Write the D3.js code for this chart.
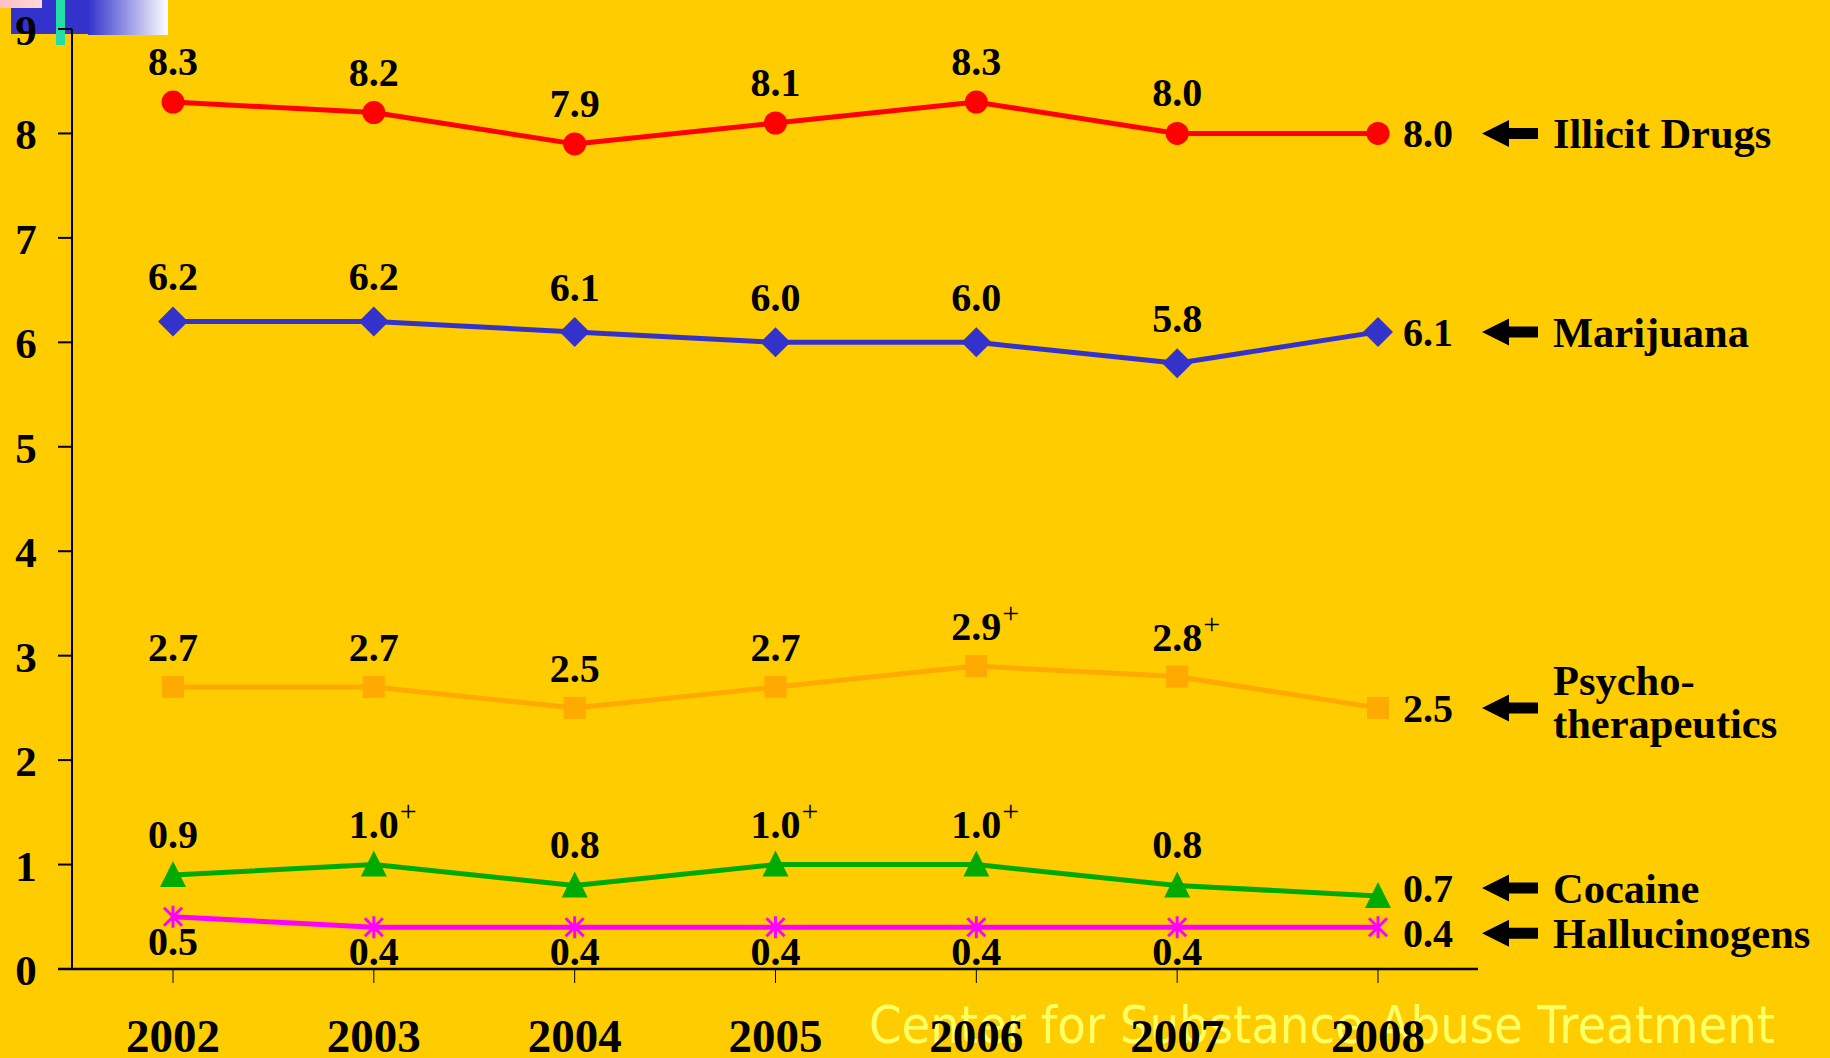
<!DOCTYPE html>
<html>
<head>
<meta charset="utf-8">
<script src="https://cdn.jsdelivr.net/npm/d3@7"></script>
<style>
  html, body { margin: 0; padding: 0; background: #FFCC00; }
  svg { display: block; }
  text { font-family: "Liberation Serif", "Times New Roman", serif; font-weight: bold; fill: #000; }
</style>
</head>
<body>
<svg id="chart" width="1830" height="1058"></svg>
<script>
// Past-month use, persons aged 12 or older, 2002-2008 (percent)
const years = [2002, 2003, 2004, 2005, 2006, 2007, 2008];
const illicitDrugs = [8.3, 8.2, 7.9, 8.1, 8.3, 8.0, 8.0];
const marijuana = [6.2, 6.2, 6.1, 6.0, 6.0, 5.8, 6.1];
const psychotherapeutics = [2.7, 2.7, 2.5, 2.7, 2.9, 2.8, 2.5];
const cocaine = [0.9, 1.0, 0.8, 1.0, 1.0, 0.8, 0.7];
const hallucinogens = [0.5, 0.4, 0.4, 0.4, 0.4, 0.4, 0.4];
// "+" = difference from 2008 estimate significant at the 0.05 level
const psychotherapeuticsFlags = [false, false, false, false, true, true, false];
const cocaineFlags = [false, true, false, true, true, false, false];
const yTickValues = [0, 1, 2, 3, 4, 5, 6, 7, 8, 9];
const seriesLabels = [["Illicit Drugs"], ["Marijuana"], ["Psycho-", "therapeutics"], ["Cocaine"], ["Hallucinogens"]];
const footerText = "Center for Substance Abuse Treatment";

const svg = d3.select("#chart");
const W = 1830, H = 1058;

svg.append("rect").attr("width", W).attr("height", H).attr("fill", "#FFCC00");

// corner ornament
const defs = svg.append("defs");
const grad = defs.append("linearGradient").attr("id", "fadeBlue").attr("x1", 0).attr("x2", 1);
grad.append("stop").attr("offset", 0).attr("stop-color", "#3333CC");
grad.append("stop").attr("offset", 1).attr("stop-color", "#FFFFFF");
const pinkGrad = defs.append("linearGradient").attr("id", "fadePink").attr("x1", 0).attr("x2", 1);
pinkGrad.append("stop").attr("offset", 0).attr("stop-color", "#FFC0C8");
pinkGrad.append("stop").attr("offset", 1).attr("stop-color", "#FFD8D8");
svg.append("rect").attr("x", 11).attr("y", 0).attr("width", 78).attr("height", 34).attr("fill", "#3333CC");
svg.append("rect").attr("x", 88).attr("y", 0).attr("width", 80).attr("height", 35).attr("fill", "url(#fadeBlue)");
svg.append("rect").attr("x", 0).attr("y", 0).attr("width", 42).attr("height", 8).attr("fill", "url(#fadePink)");
svg.append("rect").attr("x", 56).attr("y", 0).attr("width", 9).attr("height", 45).attr("fill", "#22DDA6");

// footer watermark
svg.append("text")
  .attr("x", 869).attr("y", 1043)
  .attr("textLength", 906).attr("lengthAdjust", "spacingAndGlyphs")
  .style("font-family", "'DejaVu Sans', Verdana, sans-serif")
  .style("font-weight", "normal")
  .style("font-size", "52px")
  .style("fill", "#FFFF66")
  .text(footerText);

const x = d3.scalePoint().domain(years).range([173, 1378]);
const y = d3.scaleLinear().domain([0, 9]).range([969, 29]);

// axes
const yAxisX = 72;
svg.append("line").attr("x1", yAxisX).attr("x2", yAxisX).attr("y1", y(9)).attr("y2", y(0))
  .attr("stroke", "#000").attr("stroke-width", 2);
svg.append("line").attr("x1", 58).attr("x2", 1478).attr("y1", y(0)).attr("y2", y(0))
  .attr("stroke", "#000").attr("stroke-width", 2.5);

const yt = svg.append("g");
yt.selectAll("line").data(yTickValues).join("line")
  .attr("x1", 58).attr("x2", yAxisX).attr("y1", d => y(d)).attr("y2", d => y(d))
  .attr("stroke", "#000").attr("stroke-width", 2);
yt.selectAll("text").data(yTickValues).join("text")
  .attr("x", 26).attr("y", d => y(d) + 16)
  .attr("text-anchor", "middle").style("font-size", "43px")
  .text(d => d);

const xt = svg.append("g");
xt.selectAll("line").data(years).join("line")
  .attr("x1", d => x(d)).attr("x2", d => x(d)).attr("y1", y(0)).attr("y2", y(0) + 14)
  .attr("stroke", "#000").attr("stroke-width", 1);
xt.selectAll("text").data(years).join("text")
  .attr("x", d => x(d)).attr("y", 1052)
  .attr("text-anchor", "middle").style("font-size", "47px")
  .text(d => d);

// marker shapes
const markers = {
  circle: g => g.append("circle").attr("r", 11.5),
  diamond: g => g.append("path").attr("d", "M0,-15L15,0L0,15L-15,0Z"),
  square: g => g.append("rect").attr("x", -11).attr("y", -11).attr("width", 22).attr("height", 22),
  triangle: g => g.append("path").attr("d", "M0,-14L13,12L-13,12Z"),
  star: (g, c) => g.append("path").attr("d", "M0,-11V11M-9,-9L9,9M-9,9L9,-9")
    .attr("fill", "none").attr("stroke", c).attr("stroke-width", 3)
};

const series = [
  { values: illicitDrugs, color: "#FF0000", marker: "circle", flags: null, labelDy: -27, arrowNudge: 0 },
  { values: marijuana, color: "#3333CC", marker: "diamond", flags: null, labelDy: -31, arrowNudge: 0 },
  { values: psychotherapeutics, color: "#FFAA00", marker: "square", flags: psychotherapeuticsFlags, labelDy: -26, arrowNudge: 0 },
  { values: cocaine, color: "#00AA00", marker: "triangle", flags: cocaineFlags, labelDy: -27, arrowNudge: -8 },
  { values: hallucinogens, color: "#FF00FF", marker: "star", flags: null, labelDy: 38, arrowNudge: 6 }
];

const line = d3.line().x((d, i) => x(years[i])).y(d => y(d));

series.forEach((s, si) => {
  const g = svg.append("g");
  g.append("path").attr("d", line(s.values)).attr("fill", "none")
    .attr("stroke", s.color).attr("stroke-width", 5).attr("stroke-linejoin", "round");

  s.values.forEach((v, i) => {
    const m = g.append("g").attr("transform", `translate(${x(years[i])},${y(v)})`).attr("fill", s.color);
    markers[s.marker](m, s.color);
  });

  // point labels (all but the last year, which is labelled at the right)
  s.values.slice(0, -1).forEach((v, i) => {
    const t = g.append("text")
      .attr("x", x(years[i])).attr("y", y(v) + s.labelDy)
      .attr("text-anchor", "middle").style("font-size", "40px")
      .text(v.toFixed(1));
    if (s.flags && s.flags[i]) {
      const w = t.node().getComputedTextLength();
      g.append("text")
        .attr("x", x(years[i]) + w / 2 + 1).attr("y", y(v) + s.labelDy - 17)
        .style("font-size", "30px").style("font-weight", "normal")
        .text("+");
    }
  });

  // right-hand value, arrow and series name
  const last = s.values[s.values.length - 1];
  const ay = y(last) + s.arrowNudge;
  g.append("text").attr("x", x(years[years.length - 1]) + 25).attr("y", ay + 14)
    .style("font-size", "40px").text(last.toFixed(1));
  g.append("path")
    .attr("d", `M1482,${ay}L1509,${ay - 13.5}L1509,${ay - 5.5}L1538,${ay - 5.5}L1538,${ay + 5.5}L1509,${ay + 5.5}L1509,${ay + 13.5}Z`)
    .attr("fill", "#000");
  const names = seriesLabels[si];
  const nameTop = names.length > 1 ? ay - 13 : ay + 15;
  names.forEach((n, k) => {
    g.append("text").attr("x", 1553).attr("y", nameTop + k * 43)
      .style("font-size", "42.5px").text(n);
  });
});
</script>
</body>
</html>
